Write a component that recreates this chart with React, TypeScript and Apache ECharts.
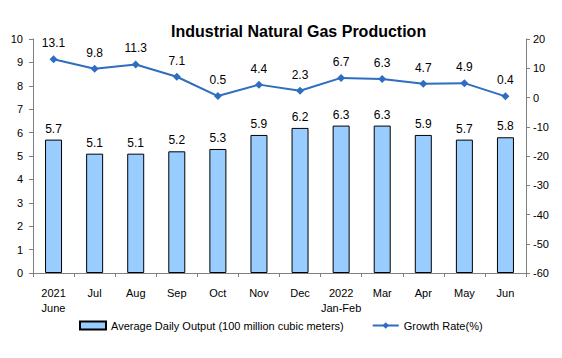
import React, { useEffect, useRef } from "react";
import * as echarts from "echarts";

const categories = ["2021\nJune", "Jul", "Aug", "Sep", "Oct", "Nov", "Dec", "2022\nJan-Feb", "Mar", "Apr", "May", "Jun"];
const dailyOutput = [5.7, 5.1, 5.1, 5.2, 5.3, 5.9, 6.2, 6.3, 6.3, 5.9, 5.7, 5.8];
const growthRate = [13.1, 9.8, 11.3, 7.1, 0.5, 4.4, 2.3, 6.7, 6.3, 4.7, 4.9, 0.4];
const barName = "Average Daily Output (100 million cubic meters)";
const lineName = "Growth Rate(%)";

const FONT = "Liberation Sans, Arial, sans-serif";

export default function App() {
  const ref = useRef<HTMLDivElement>(null);
  useEffect(() => {
    if (!ref.current) return;
    const chart = echarts.init(ref.current, null, { renderer: "svg" });
    const axisLine = { show: true, lineStyle: { color: "#808080", width: 1 } };
    chart.setOption({
      animation: false,
      backgroundColor: "#fff",
      title: {
        text: "Industrial Natural Gas Production",
        left: 166,
        top: 18,
        textStyle: { fontFamily: FONT, fontSize: 16, fontWeight: "bold", color: "#000" },
      },
      legend: {
        bottom: 22,
        left: 74,
        itemWidth: 26,
        itemHeight: 8,
        itemGap: 28,
        textStyle: { fontFamily: FONT, fontSize: 11, color: "#000" },
        data: [
          { name: barName, icon: "rect" },
          { name: lineName },
        ],
      },
      grid: { left: 33, right: 36, top: 39, bottom: 85 },
      xAxis: {
        type: "category",
        data: categories,
        boundaryGap: true,
        axisLine,
        axisTick: { show: true, alignWithLabel: false, interval: 0, length: 4, lineStyle: { color: "#808080" } },
        axisLabel: { interval: 0, fontFamily: FONT, fontSize: 11, color: "#000", margin: 12, lineHeight: 15 },
      },
      yAxis: [
        {
          type: "value",
          min: 0,
          max: 10,
          interval: 1,
          axisLine,
          axisTick: { show: true, length: 4, lineStyle: { color: "#808080" } },
          splitLine: { show: false },
          axisLabel: { fontFamily: FONT, fontSize: 11, color: "#000", margin: 10 },
        },
        {
          type: "value",
          min: -60,
          max: 20,
          interval: 10,
          position: "right",
          axisLine,
          axisTick: { show: true, length: 4, lineStyle: { color: "#808080" } },
          splitLine: { show: false },
          axisLabel: { fontFamily: FONT, fontSize: 11, color: "#000", margin: 7 },
        },
      ],
      series: [
        {
          name: barName,
          type: "bar",
          data: dailyOutput,
          barWidth: 17,
          itemStyle: { color: "#99CCFF", borderColor: "#000", borderWidth: 1 },
          label: { show: true, position: "top", distance: 5, fontFamily: FONT, fontSize: 12, color: "#000" },
        },
        {
          name: lineName,
          type: "line",
          yAxisIndex: 1,
          data: growthRate,
          symbol: "diamond",
          symbolSize: 8,
          lineStyle: { color: "#2E6DBF", width: 2 },
          itemStyle: { color: "#2E6DBF" },
          label: { show: true, position: "top", distance: 6, fontFamily: FONT, fontSize: 12, color: "#000" },
        },
      ],
    });
    return () => chart.dispose();
  }, []);
  return <div ref={ref} style={{ width: 562, height: 358, position: "absolute", left: 0, top: 0 }} />;
}
